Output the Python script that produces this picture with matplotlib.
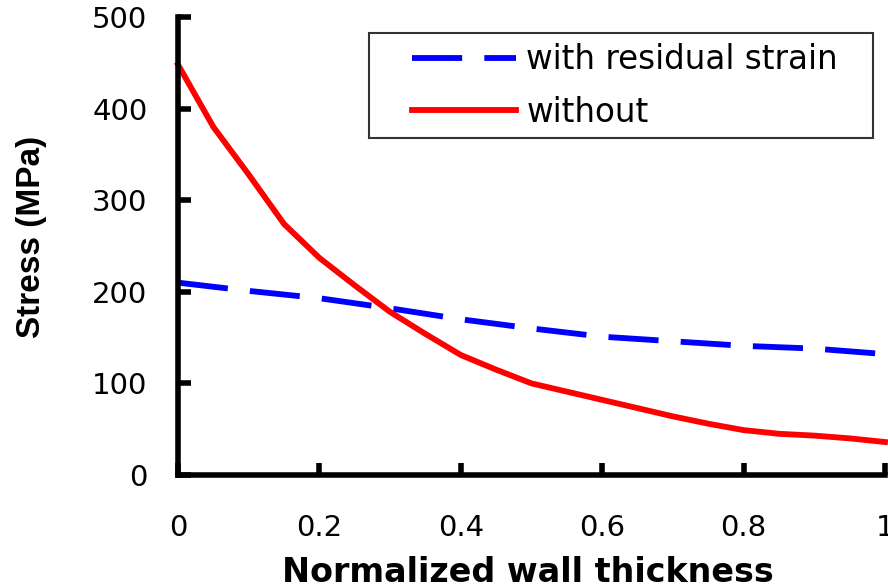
import matplotlib
matplotlib.use("Agg")
import matplotlib.pyplot as plt
from matplotlib.lines import Line2D
from matplotlib.patches import Rectangle

plt.rcParams['font.family'] = ['DejaVu Sans']

# data
x_without = [0, 0.05, 0.1, 0.15, 0.2, 0.25, 0.3, 0.35, 0.4, 0.45, 0.5,
             0.55, 0.6, 0.65, 0.7, 0.75, 0.8, 0.85, 0.9, 0.95, 1.0]
stress_without = [448, 380, 328, 274, 237, 207, 178, 154, 131, 115, 100,
                  91, 82, 73, 64, 56, 49, 45, 43, 40, 36]
x_residual = [0, 0.1, 0.2, 0.3, 0.4, 0.5, 0.6, 0.7, 0.8, 0.9, 1.0]
stress_residual = [210, 201, 193, 182, 170, 160, 151, 146, 141, 138, 132]

xticks = [0, 0.2, 0.4, 0.6, 0.8, 1]
xtick_labels = ['0', '0.2', '0.4', '0.6', '0.8', '1']
yticks = [0, 100, 200, 300, 400, 500]

W, H = 888, 587
blue = '#0000ff'
red = '#ff0000'
lw = 4.2
dash = (8.6, 3.8)

fig = plt.figure(figsize=(W / 100, H / 100), dpi=100)
ax = fig.add_axes([178 / W, 1 - 475 / H, 707 / W, 458 / H])

ax.plot(x_residual, stress_residual, color=blue, lw=lw, dashes=dash,
        dash_capstyle='butt', clip_on=False)
ax.plot(x_without, stress_without, color=red, lw=lw, clip_on=False)

ax.set_xlim(0, 1)
ax.set_ylim(0, 500)
ax.set_xticks(xticks)
ax.set_xticklabels(xtick_labels)
ax.set_yticks(yticks)

for s in ['top', 'right']:
    ax.spines[s].set_visible(False)
for s in ['left', 'bottom']:
    ax.spines[s].set_linewidth(4)
ax.tick_params(direction='in', length=9, width=4, labelsize=21, colors='black')
ax.tick_params(axis='x', pad=28)
ax.tick_params(axis='y', pad=22)

ax.set_xlabel('Normalized wall thickness', fontsize=24, fontweight='bold')
ax.set_ylabel('Stress (MPa)', fontsize=24, fontweight='bold',
              family=['Liberation Sans', 'DejaVu Sans'])
ax.xaxis.set_label_coords(0.495, (475 - 572) / 458)
ax.yaxis.set_label_coords((32 - 178) / 707, (475 - 237) / 458)
ax.xaxis.label.set_va('center')
ax.yaxis.label.set_va('center')

# legend box drawn by hand so the padding can match
fig.patches.append(Rectangle((369 / W, 1 - 138 / H), (873 - 369) / W, (138 - 33) / H,
                             transform=fig.transFigure, fill=True, facecolor='white',
                             edgecolor='#333333', linewidth=1.5, zorder=5))

handles = [
    Line2D([], [], color=blue, lw=lw, dashes=dash, dash_capstyle='butt'),
    Line2D([], [], color=red, lw=lw),
]
leg = fig.legend(handles, ['with residual strain', 'without'],
                 loc='upper left', bbox_to_anchor=(412 / W, 1 - 43 / H),
                 fontsize=23.5, frameon=False, borderpad=0,
                 handlelength=3.2, handletextpad=0.3, labelspacing=0.6,
                 borderaxespad=0)
leg.set_zorder(6)

fig.savefig('out.png', dpi=100)
